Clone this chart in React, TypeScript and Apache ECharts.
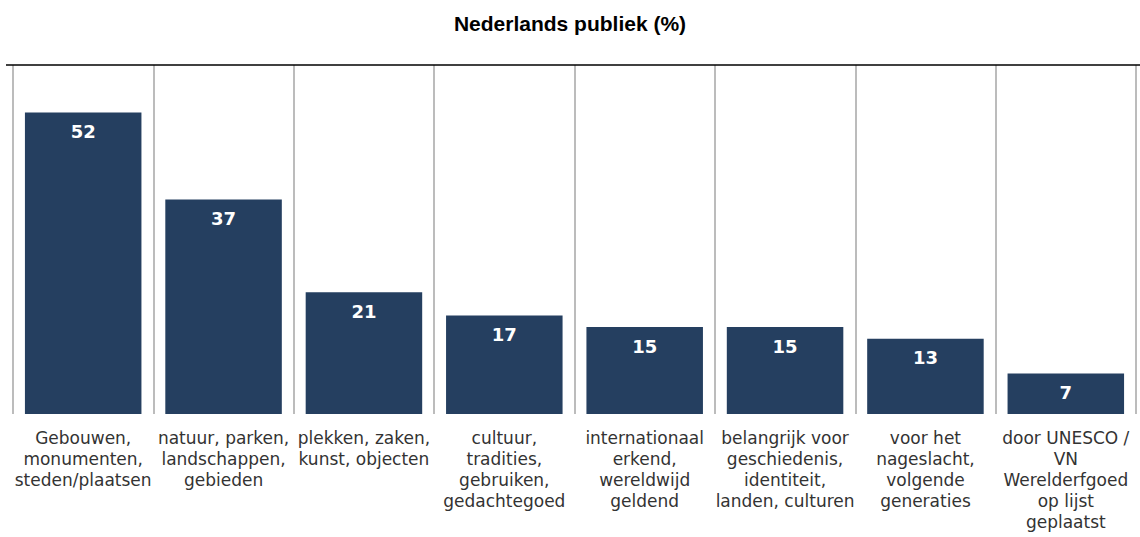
import React, { useEffect, useRef } from "react";
import * as echarts from "echarts";

const title = "Nederlands publiek (%)";
const categories = [
  "Gebouwen,\nmonumenten,\nsteden/plaatsen",
  "natuur, parken,\nlandschappen,\ngebieden",
  "plekken, zaken,\nkunst, objecten",
  "cultuur,\ntradities,\ngebruiken,\ngedachtegoed",
  "internationaal\nerkend,\nwereldwijd\ngeldend",
  "belangrijk voor\ngeschiedenis,\nidentiteit,\nlanden, culturen",
  "voor het\nnageslacht,\nvolgende\ngeneraties",
  "door UNESCO /\nVN\nWerelderfgoed\nop lijst\ngeplaatst",
];
const values = [52, 37, 21, 17, 15, 15, 13, 7];

export default function App() {
  const ref = useRef<HTMLDivElement>(null);
  useEffect(() => {
    document.body.style.margin = "0";
    const chart = echarts.init(ref.current!, undefined, { renderer: "svg" });
    chart.setOption({
      animation: false,
      title: {
        text: title,
        left: "center",
        top: 8,
        textStyle: {
          fontFamily: "Liberation Sans, Arial, sans-serif",
          fontWeight: "bold",
          fontSize: 21,
          color: "#000",
        },
      },
      grid: { left: 13, right: 4, top: 65, bottom: 123 },
      xAxis: {
        type: "category",
        data: categories,
        axisLine: { show: false },
        axisTick: { show: false },
        splitLine: { show: true, lineStyle: { color: "#a6a6a6", width: 1.5 } },
        axisLabel: {
          interval: 0,
          margin: 13,
          fontFamily: "DejaVu Sans, Verdana, sans-serif",
          fontSize: 17,
          lineHeight: 21,
          color: "#333",
          align: "center",
        },
      },
      yAxis: {
        type: "value",
        min: 0,
        max: 60.2,
        show: false,
        splitLine: { show: false },
      },
      graphic: [
        {
          type: "line",
          shape: { x1: 6, y1: 65, x2: 1140, y2: 65 },
          style: { stroke: "#000", lineWidth: 1.5 },
          z: 100,
        },
      ],
      series: [
        {
          type: "bar",
          data: values,
          barCategoryGap: "17%",
          itemStyle: { color: "#253F60" },
          label: {
            show: true,
            position: "insideTop",
            distance: 10,
            color: "#fff",
            fontFamily: "DejaVu Sans, Verdana, sans-serif",
            fontWeight: "bold",
            fontSize: 18,
          },
        },
      ],
    });
    return () => chart.dispose();
  }, []);
  return <div ref={ref} style={{ width: 1140, height: 537 }} />;
}
